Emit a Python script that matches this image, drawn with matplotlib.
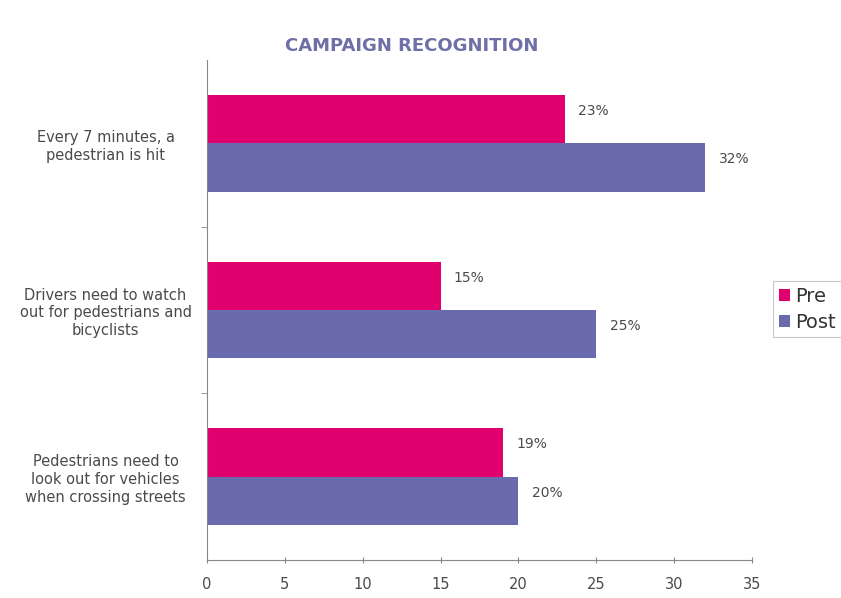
import matplotlib
matplotlib.use("Agg")
import matplotlib.pyplot as plt
import numpy as np

categories = [
    "Every 7 minutes, a\npedestrian is hit",
    "Drivers need to watch\nout for pedestrians and\nbicyclists",
    "Pedestrians need to\nlook out for vehicles\nwhen crossing streets",
]
pre = [23, 15, 19]
post = [32, 25, 20]
series_names = ["Pre", "Post"]
x_ticks = [0, 5, 10, 15, 20, 25, 30, 35]

pink = "#E0006E"
blue = "#6A6AAE"
text_gray = "#4A4A4A"

plt.rcParams["font.family"] = ["DejaVu Sans"]

fig = plt.figure(figsize=(8.41, 5.98), dpi=100)
ax = fig.add_axes([207 / 841, 1 - 560 / 598, (752 - 207) / 841, 500 / 598])

y = np.arange(len(categories))
h = 0.29
b1 = ax.barh(y - h / 2, pre, height=h, color=pink, label=series_names[0])
b2 = ax.barh(y + h / 2, post, height=h, color=blue, label=series_names[1])

for bars, vals in ((b1, pre), (b2, post)):
    for bar, v in zip(bars, vals):
        ax.text(v + 0.85, bar.get_y() + bar.get_height() / 2 - 0.05, f"{v}%",
                va="center", ha="left", fontsize=10, color=text_gray)

ax.set_xlim(0, 35)
ax.set_ylim(len(categories) - 0.5, -0.5)
ax.set_xticks(x_ticks)
ax.set_xticklabels([str(t) for t in x_ticks], fontsize=10.5, color=text_gray)
ax.set_yticks(y)
ax.set_yticklabels(categories, fontsize=10.5, color=text_gray, ha="center",
                   linespacing=1.25)
ax.tick_params(axis="y", length=0, pad=73)
ax.set_yticks([0.5, 1.5], minor=True)
ax.tick_params(axis="y", which="minor", length=4, color="#888888", direction="out")
ax.tick_params(axis="x", length=4, color="#888888", direction="inout", pad=10)

for side in ("top", "right"):
    ax.spines[side].set_visible(False)
for side in ("left", "bottom"):
    ax.spines[side].set_color("#888888")
    ax.spines[side].set_linewidth(0.8)

fig.text(412 / 841, 1 - 46 / 598, "CAMPAIGN RECOGNITION", ha="center", va="center",
         fontsize=13, fontweight="bold", color="#6F6FA8")

leg = fig.legend(handles=[b1, b2], loc="upper left",
                 bbox_to_anchor=(773 / 841, 1 - 281 / 598), fontsize=14,
                 frameon=True, fancybox=False, handlelength=0.55, handleheight=0.55,
                 handletextpad=0.3, borderpad=0.3, labelspacing=0.35,
                 borderaxespad=0)
leg.get_frame().set_edgecolor("#BBBBBB")
leg.get_frame().set_linewidth(0.8)
for t in leg.get_texts():
    t.set_color("#333333")

fig.savefig("out.png", dpi=100)
